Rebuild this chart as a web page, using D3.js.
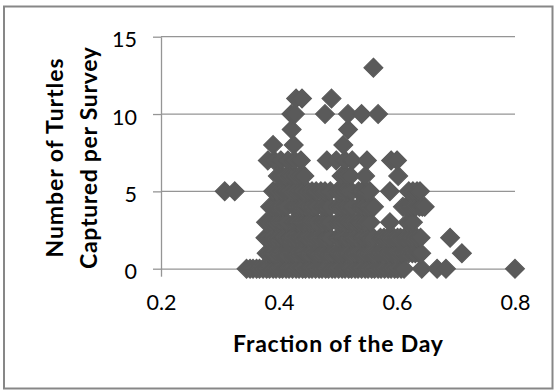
<!DOCTYPE html>
<html>
<head>
<meta charset="utf-8">
<script src="https://cdn.jsdelivr.net/npm/d3@7"></script>
<style>
  body { margin: 0; background: #fff; }
  svg { display: block; }
  text { font-family: Lato, "Open Sans", sans-serif; fill: #000; }
</style>
</head>
<body>
<svg id="chart" width="556" height="391"></svg>
<script>
// Axis ticks and titles
const xTicks = [0.2, 0.4, 0.6, 0.8];
const yTicks = [0, 5, 10, 15];
const xTitle = "Fraction of the Day";
const yTitle = ["Number of Turtles", "Captured per Survey"];

// Fraction of the day at which each survey took place, grouped by turtles captured
const caught0 = [0.345, 0.351, 0.356, 0.362, 0.367, 0.373, 0.379, 0.384, 0.39, 0.395, 0.401, 0.406, 0.412, 0.417, 0.423, 0.429, 0.434, 0.44, 0.445, 0.451, 0.456, 0.462, 0.468, 0.473, 0.479, 0.484, 0.49, 0.495, 0.501, 0.507, 0.512, 0.518, 0.523, 0.529, 0.534, 0.54, 0.546, 0.551, 0.557, 0.562, 0.568, 0.573, 0.579, 0.585, 0.59, 0.596, 0.601, 0.607, 0.612, 0.642, 0.668, 0.683, 0.8];
const caught1 = [0.379, 0.385, 0.39, 0.396, 0.401, 0.407, 0.413, 0.418, 0.424, 0.43, 0.435, 0.441, 0.446, 0.452, 0.458, 0.463, 0.469, 0.474, 0.48, 0.486, 0.491, 0.497, 0.502, 0.508, 0.514, 0.519, 0.525, 0.53, 0.536, 0.542, 0.547, 0.553, 0.558, 0.564, 0.57, 0.575, 0.581, 0.586, 0.592, 0.598, 0.603, 0.609, 0.614, 0.62, 0.626, 0.631, 0.637, 0.641, 0.71];
const caught2 = [0.377, 0.382, 0.388, 0.393, 0.399, 0.405, 0.41, 0.416, 0.421, 0.427, 0.433, 0.438, 0.444, 0.449, 0.455, 0.461, 0.466, 0.472, 0.477, 0.482, 0.487, 0.499, 0.504, 0.51, 0.515, 0.521, 0.526, 0.532, 0.538, 0.543, 0.549, 0.554, 0.56, 0.572, 0.578, 0.584, 0.589, 0.595, 0.601, 0.606, 0.612, 0.617, 0.623, 0.629, 0.634, 0.64, 0.69];
const caught3 = [0.378, 0.383, 0.389, 0.394, 0.4, 0.406, 0.413, 0.425, 0.431, 0.436, 0.441, 0.447, 0.452, 0.457, 0.464, 0.474, 0.481, 0.487, 0.499, 0.505, 0.511, 0.517, 0.522, 0.528, 0.534, 0.539, 0.545, 0.55, 0.555, 0.588, 0.618, 0.623, 0.627];
const caught4 = [0.385, 0.39, 0.396, 0.402, 0.407, 0.413, 0.425, 0.43, 0.436, 0.441, 0.447, 0.452, 0.458, 0.464, 0.474, 0.481, 0.487, 0.499, 0.505, 0.511, 0.517, 0.523, 0.535, 0.541, 0.547, 0.552, 0.557, 0.561, 0.61, 0.615, 0.621, 0.626, 0.632, 0.638, 0.643, 0.647];
const caught5 = [0.308, 0.325, 0.39, 0.397, 0.405, 0.412, 0.419, 0.427, 0.434, 0.441, 0.449, 0.456, 0.463, 0.471, 0.478, 0.487, 0.499, 0.505, 0.511, 0.517, 0.523, 0.535, 0.541, 0.548, 0.554, 0.588, 0.62, 0.627, 0.634, 0.639];
const caught6 = [0.398, 0.405, 0.412, 0.42, 0.428, 0.436, 0.443, 0.506, 0.514, 0.521, 0.546, 0.602];
const caught7 = [0.381, 0.392, 0.403, 0.415, 0.426, 0.437, 0.481, 0.497, 0.512, 0.524, 0.549, 0.59, 0.6];
const caught8 = [0.39, 0.425, 0.509];
const caught9 = [0.4215, 0.517];
const caught10 = [0.421, 0.427, 0.478, 0.517, 0.54, 0.568];
const caught11 = [0.429, 0.439, 0.489];
const caught12 = [];
const caught13 = [0.56];

const byCount = [caught0, caught1, caught2, caught3, caught4, caught5, caught6,
                 caught7, caught8, caught9, caught10, caught11, caught12, caught13];
const points = byCount.flatMap((xs, count) => xs.map(f => ({ f, count })));

const svg = d3.select("#chart");
const W = 556, H = 391;

// Outer chart frame
svg.append("rect")
  .attr("x", 4).attr("y", 6.5)
  .attr("width", W - 7.5).attr("height", H - 9)
  .attr("fill", "#fff").attr("stroke", "#878787").attr("stroke-width", 2);

const plot = { left: 161, right: 515, top: 36.7, bottom: 268.7 };
const x = d3.scaleLinear().domain([0.2, 0.8]).range([plot.left, plot.right]);
const y = d3.scaleLinear().domain([0, 15]).range([plot.bottom, plot.top]);

const axisColor = "#959595";

// Horizontal gridlines
svg.append("g")
  .selectAll("line")
  .data(yTicks.filter(t => t > 0))
  .join("line")
  .attr("x1", plot.left).attr("x2", plot.right)
  .attr("y1", d => y(d)).attr("y2", d => y(d))
  .attr("stroke", axisColor).attr("stroke-width", 1.3);

// Y axis
const yAxis = svg.append("g")
  .attr("transform", `translate(${plot.left},0)`)
  .call(d3.axisLeft(y).tickValues(yTicks).tickSize(8).tickSizeOuter(0).tickPadding(16));
yAxis.select(".domain").attr("stroke", axisColor).attr("stroke-width", 1.3);
yAxis.selectAll(".tick line").attr("stroke", axisColor).attr("stroke-width", 1.3);
yAxis.selectAll(".tick text")
  .attr("font-size", 21.5).attr("font-family", "Lato, sans-serif")
  .attr("dy", null).attr("y", 10).attr("fill", "#000");

// X axis
const xAxis = svg.append("g")
  .attr("transform", `translate(0,${plot.bottom})`)
  .call(d3.axisBottom(x).tickValues(xTicks).tickFormat(d3.format(".1f")).tickSize(8).tickSizeOuter(0));
xAxis.select(".domain").attr("stroke", axisColor).attr("stroke-width", 1.3);
xAxis.selectAll(".tick line").attr("stroke", axisColor).attr("stroke-width", 1.3);
xAxis.selectAll(".tick text")
  .attr("font-size", 21.5).attr("font-family", "Lato, sans-serif")
  .attr("dy", null).attr("y", 41.6).attr("fill", "#000");

// Diamond markers
const r = 9.4;
const diamond = `M0,${-r}L${r},0L0,${r}L${-r},0Z`;
svg.append("g")
  .selectAll("path")
  .data(points)
  .join("path")
  .attr("d", diamond)
  .attr("transform", d => `translate(${x(d.f)},${y(d.count)})`)
  .attr("fill", "#5a5a5a")
  .attr("stroke", "#5a5a5a")
  .attr("stroke-width", 1.2);

// Axis titles
svg.append("text")
  .attr("x", (plot.left + plot.right) / 2).attr("y", 351.7)
  .attr("text-anchor", "middle")
  .attr("font-size", 23).attr("font-weight", "bold")
  .attr("textLength", 210).attr("lengthAdjust", "spacing")
  .text(xTitle);

const yTitleWidths = [199, 222];
const yTitleG = svg.append("g").attr("transform", "translate(0,158) rotate(-90)");
yTitleG.selectAll("text")
  .data(yTitle)
  .join("text")
  .attr("x", 0)
  .attr("y", (d, i) => i === 0 ? 63 : 96.7)
  .attr("text-anchor", "middle")
  .attr("font-size", 23).attr("font-weight", "bold")
  .attr("textLength", (d, i) => yTitleWidths[i]).attr("lengthAdjust", "spacing")
  .text(d => d);
</script>
</body>
</html>
